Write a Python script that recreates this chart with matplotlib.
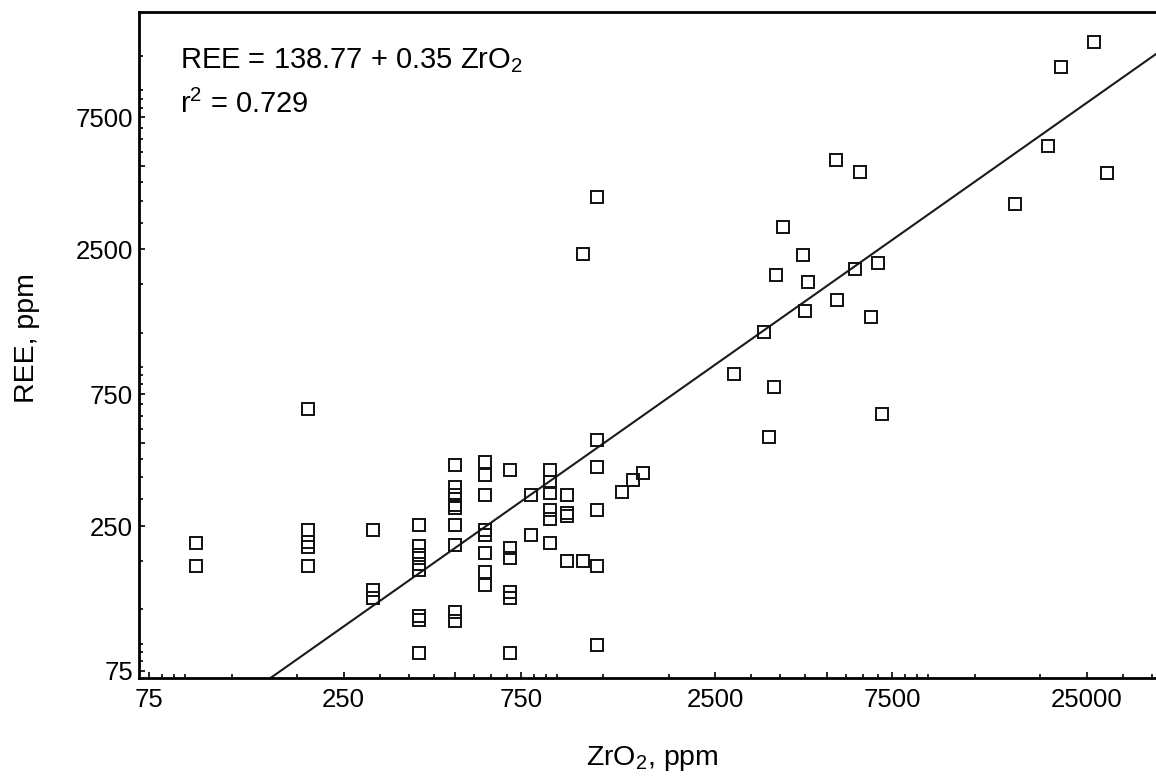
import matplotlib
matplotlib.use("Agg")
import matplotlib.pyplot as plt
from matplotlib.ticker import FixedLocator, FuncFormatter, NullFormatter

plt.rcParams['font.family'] = ['Liberation Sans', 'DejaVu Sans']
plt.rcParams['mathtext.default'] = 'regular'

# ---------------- data ----------------
zro2 = [100, 100,
        200, 200, 200, 200, 200,
        300, 300, 300,
        400, 400, 400, 400, 400, 400, 400, 400,
        500, 500, 500, 500, 500, 500, 500, 500, 500,
        600, 600, 600, 600, 600, 600, 600, 600,
        700, 700, 700, 700, 700, 700,
        800, 800,
        900, 900, 900, 900, 900, 900,
        1000, 1000, 1000, 1000,
        1100,
        1200, 1200, 1200, 1200, 1200,
        1400, 1500, 1600,
        1100, 1200,
        2810, 3600, 3490, 7035, 3390, 4370, 5310, 6570, 3650, 4450,
        4320, 3800, 5960, 6880, 5300, 6140,
        16090, 19740, 28320, 21340, 26130]
ree = [218, 180,
       662, 242, 219, 210, 180,
       242, 147, 137,
       252, 212, 196, 183, 173, 118, 114, 87,
       416, 347, 324, 298, 290, 252, 213, 122, 113,
       425, 382, 324, 242, 232, 200, 170, 153,
       399, 208, 192, 144, 137, 87,
       324, 232,
       399, 362, 330, 286, 264, 218,
       324, 278, 272, 187,
       187,
       512, 408, 286, 180, 93,
       331, 367, 390,
       2400, 3860,
       883, 797, 524, 633, 1253, 1500, 1640, 1427, 2019, 1900,
       2390, 3018, 2128, 2230, 5243, 4770,
       3645, 5920, 4730, 11425, 14030]

fit_zro2 = [159, 38445]
fit_ree = [70.6, 12700]

x_labeled = [75, 250, 750, 2500, 7500, 25000]
x_medium = [500, 5000]
y_labeled = [75, 250, 750, 2500, 7500]
y_medium = [500, 5000]
minor_ticks = [81.25, 87.5, 93.75, 125, 187.5, 312.5, 375, 437.5, 562.5, 625,
               687.5, 812.5, 875, 937.5, 1250, 1875, 3125, 3750, 4375, 5625,
               6250, 6875, 8125, 8750, 9375, 12500, 18750, 31250, 37500]

equation = "REE = 138.77 + 0.35 ZrO$_2$"
r2_text = "r$^2$ = 0.729"

# ---------------- figure ----------------
W, H = 1156, 776
fig = plt.figure(figsize=(W / 100, H / 100), dpi=100)
left, right, top, bottom = 139.3, 1156, 12.3, 678
ax = fig.add_axes([left / W, 1 - bottom / H, (right - left) / W, (bottom - top) / H])
ax.set_xscale('log')
ax.set_yscale('log')
ax.set_xlim(70.5, 38445)
ax.set_ylim(70.6, 17970)

ax.plot(fit_zro2, fit_ree, color='#1a1a1a', lw=1.5, zorder=2)
ax.plot(zro2, ree, linestyle='none', marker='s', ms=8.2, mew=1.4,
        mfc='none', mec='#111111', zorder=3)

for side in ['left', 'bottom', 'top']:
    ax.spines[side].set_linewidth(2.0)
    ax.spines[side].set_color('black')
ax.spines['right'].set_visible(False)

def make_fmt(labeled):
    def f(v, pos):
        for l in labeled:
            if abs(v - l) / l < 1e-6:
                return f"{l:g}"
        return ''
    return FuncFormatter(f)

ax.xaxis.set_major_locator(FixedLocator(sorted(x_labeled + x_medium)))
ax.xaxis.set_major_formatter(make_fmt(x_labeled))
ax.xaxis.set_minor_locator(FixedLocator(minor_ticks))
ax.xaxis.set_minor_formatter(NullFormatter())
ax.yaxis.set_major_locator(FixedLocator(sorted(y_labeled + y_medium)))
ax.yaxis.set_major_formatter(make_fmt(y_labeled))
ax.yaxis.set_minor_locator(FixedLocator(minor_ticks))
ax.yaxis.set_minor_formatter(NullFormatter())

ax.tick_params(which='both', direction='in', top=False, right=False,
               width=1.2, colors='black', labelsize=18.5)
ax.tick_params(which='major', length=4.6)
ax.tick_params(which='minor', length=2.9)
ax.tick_params(axis='x', which='major', pad=7.5)
ax.tick_params(axis='y', which='major', pad=4.5)

fig.text(180 / W, 1 - 68 / H, equation, fontsize=21, ha='left', va='baseline')
fig.text(180 / W, 1 - 113 / H, r2_text, fontsize=21, ha='left', va='baseline')

fig.text(586 / W, 1 - 765 / H, "ZrO$_2$, ppm", fontsize=20.5,
         ha='left', va='baseline')
fig.text(34.4 / W, 1 - 403 / H, "REE, ppm", fontsize=20.5, rotation=90,
         rotation_mode='anchor', ha='left', va='baseline')

fig.savefig('out.png', dpi=100)
